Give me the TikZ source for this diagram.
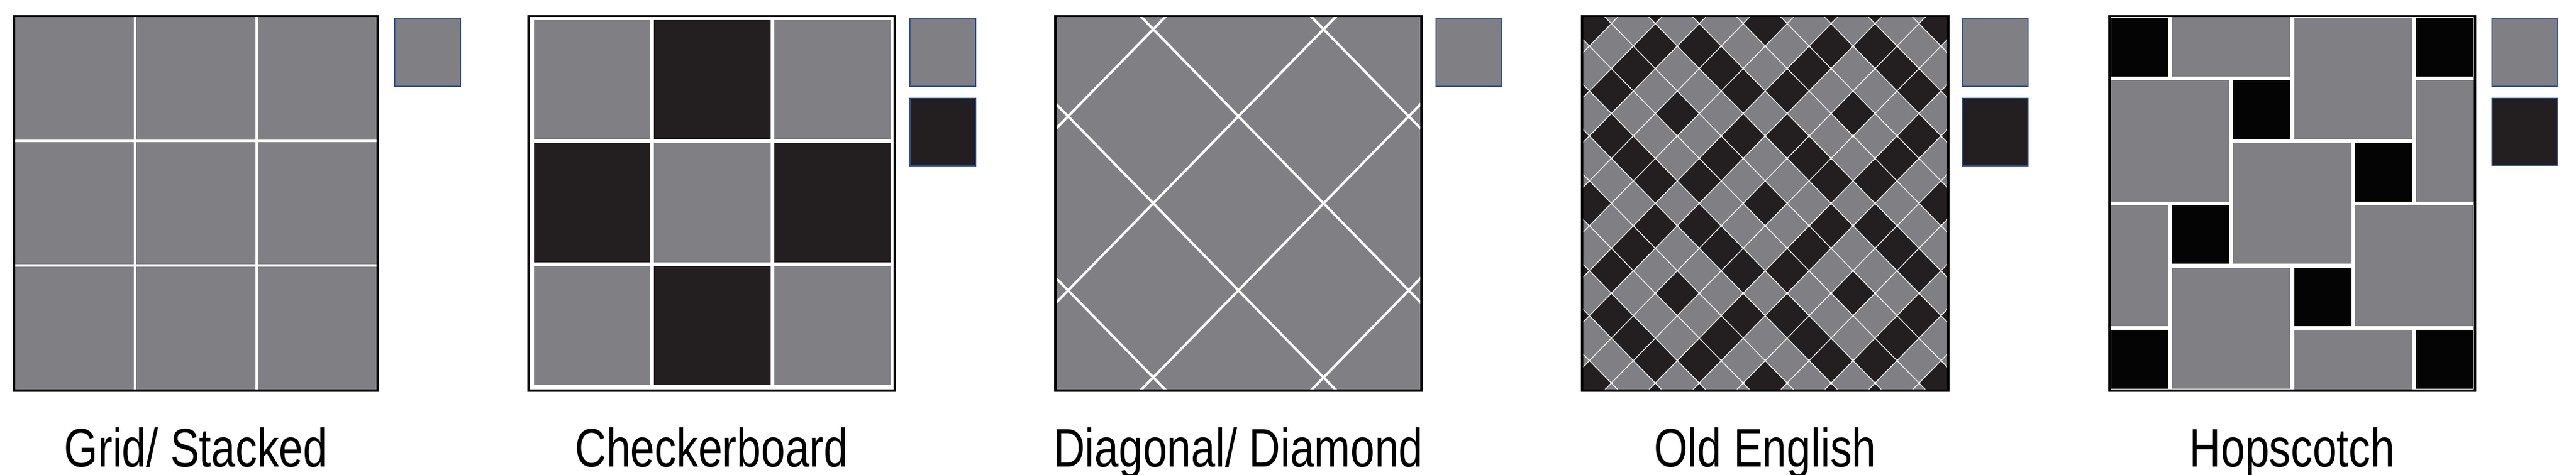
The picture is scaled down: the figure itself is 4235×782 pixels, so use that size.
\documentclass[tikz,border=0pt]{standalone}
\usepackage{fontspec}
\setmainfont{Liberation Sans}[FakeStretch=0.8]
\usepackage{tikz}

\definecolor{tilegrey}{RGB}{128,128,132}
\definecolor{tiledark}{RGB}{35,31,32}
\definecolor{tileblack}{RGB}{4,4,4}
\definecolor{swatchblue}{RGB}{50,80,145}

\begin{document}
\begin{tikzpicture}[x=0.1mm, y=-0.1mm,
  frame/.style={draw=black, line width=0.35mm},
  grout/.style={draw=white, line width=0.4mm},
  fineline/.style={draw=white, line width=0.13mm},
  swatch/.style={draw=swatchblue, line width=0.2mm},
  caption/.style={anchor=base, inner sep=0pt, font=\fontsize{25.4pt}{30pt}\selectfont}]
\useasboundingbox (0,0) rectangle (4235,782);

% Grid/ Stacked
\fill[tilegrey] (23,26.5) rectangle (621,643);
\foreach \k in {1,2} {
  \draw[grout] ({23+\k*598/3},26.5) -- ({23+\k*598/3},643);
  \draw[grout] (23,{26.5+\k*616.5/3}) -- (621,{26.5+\k*616.5/3});
}
\draw[frame] (23,26.5) rectangle (621,643);
\filldraw[swatch, fill=tilegrey] (649,31) rectangle (757,142);
\node[caption] (lblgrid) at (322,768) {Grid/ Stacked};

% Checkerboard
\fill[white] (869,26.5) rectangle (1471,643);
\foreach \c/\r/\col in {0/0/tilegrey, 1/0/tiledark, 2/0/tilegrey,
                        0/1/tiledark, 1/1/tilegrey, 2/1/tiledark,
                        0/2/tilegrey, 1/2/tiledark, 2/2/tilegrey}
  \fill[\col] ({878+\c*197.3},{33+\r*202.3}) rectangle +(191.3,196.3);
\draw[frame] (869,26.5) rectangle (1471,643);
\filldraw[swatch, fill=tilegrey] (1496,31) rectangle (1604,142);
\filldraw[swatch, fill=tiledark] (1496,162) rectangle (1604,273);
\node[caption] (lblcheck) at (1170,768) {Checkerboard};

% Diagonal/ Diamond
\fill[tilegrey] (1735,26.5) rectangle (2337,643);
\begin{scope}
  \clip (1735,26.5) rectangle (2337,643);
  \begin{scope}[shift={(203.6mm,-33.475mm)}, x=14mm, y=-14.33mm]
    \foreach \k in {-3,-1,1,3} {
      \draw[grout] (\k-5,-5) -- (\k+5,5);
      \draw[grout] (\k+5,-5) -- (\k-5,5);
    }
  \end{scope}
\end{scope}
\draw[frame] (1735,26.5) rectangle (2337,643);
\filldraw[swatch, fill=tilegrey] (2361,31) rectangle (2469,142);
\node[caption] (lbldiag) at (2036,768) {Diagonal/ Diamond};

% Old English
\fill[tilegrey] (2601,26.5) rectangle (3203,643);
\begin{scope}
  \clip (2601,26.5) rectangle (3203,643);
  \begin{scope}[shift={(290.2mm,-33.475mm)}, x=3.612mm, y=-3.699mm]
    \foreach \i in {-9,...,9} \foreach \j in {-9,...,9} {
      \pgfmathtruncatemacro\cellpar{mod(\i+\j+40,2)}
      \ifnum\cellpar=0
        \pgfmathtruncatemacro\rowp{mod((\i+\j+40)/2,4)}
        \pgfmathtruncatemacro\colq{mod((\i-\j+40)/2,4)}
        \pgfmathtruncatemacro\isdark{(\rowp==0 && \colq==0) || (\rowp==2 && \colq!=2) || (\colq==2 && \rowp!=2)}
        \ifnum\isdark=1
          \fill[tiledark] (\i-1,\j) -- (\i,\j-1) -- (\i+1,\j) -- (\i,\j+1) -- cycle;
        \fi
      \fi
    }
    \foreach \k in {-17,-15,...,17} {
      \draw[fineline] (\k-10,-10) -- (\k+10,10);
      \draw[fineline] (\k+10,-10) -- (\k-10,10);
    }
  \end{scope}
\end{scope}
\draw[frame] (2601,26.5) rectangle (3203,643);
\filldraw[swatch, fill=tilegrey] (3226,31) rectangle (3334,142);
\filldraw[swatch, fill=tiledark] (3226,162) rectangle (3334,273);
\node[caption] (lbleng) at (2902,768) {Old English};

% Hopscotch
\fill[white] (3468,26.5) rectangle (4069,643);
\begin{scope}
  \clip (3468,26.5) rectangle (4069,643);
  \begin{scope}[shift={(346.8mm,-2.65mm)}, x=10.017mm, y=-10.275mm]
    \foreach \c/\r in {3/0, 0/1, 2/2, 4/3, 1/4, 1/-1, 5/1, -1/3, 3/5}
      \fill[tilegrey] (\c+0.03,\r+0.03) rectangle (\c+1.97,\r+1.97);
    \foreach \c/\r in {0/0, 5/0, 2/1, 4/2, 1/3, 3/4, 0/5, 5/5}
      \fill[tileblack] (\c+0.03,\r+0.03) rectangle (\c+0.97,\r+0.97);
  \end{scope}
\end{scope}
\draw[frame] (3468,26.5) rectangle (4069,643);
\filldraw[swatch, fill=tilegrey] (4097,31) rectangle (4204,142);
\filldraw[swatch, fill=tiledark] (4097,162) rectangle (4204,272);
\node[caption] (lblhop) at (3768.5,768) {Hopscotch};
\end{tikzpicture}
\end{document}
